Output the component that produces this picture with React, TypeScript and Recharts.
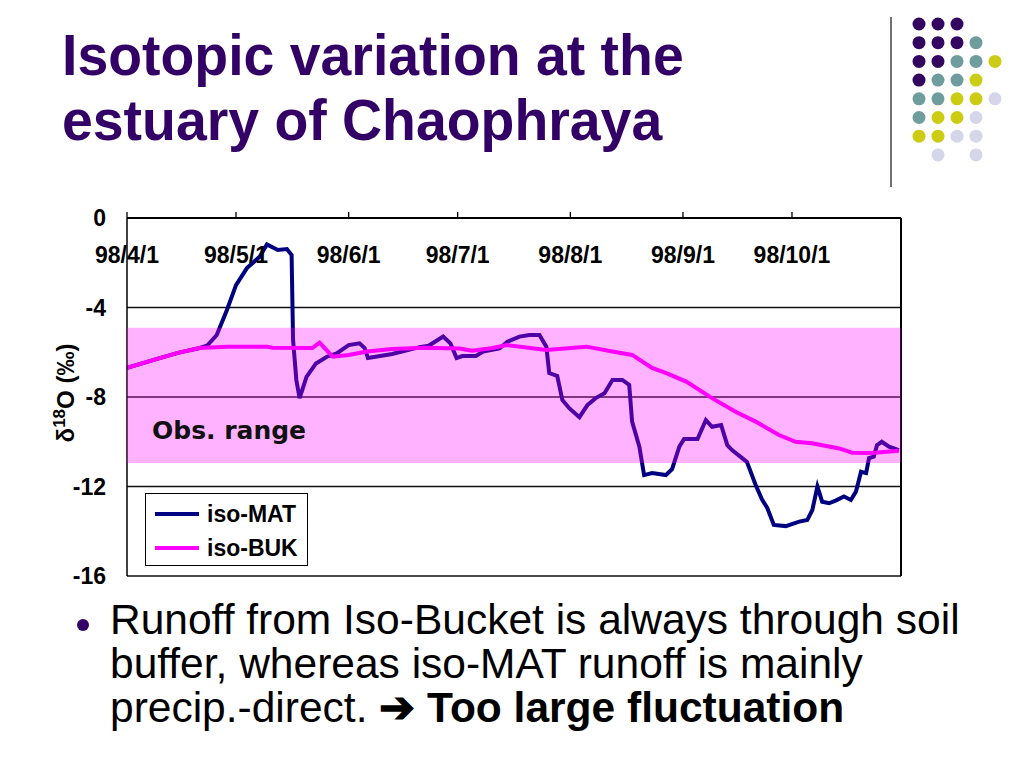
import React from "react";
import {
  LineChart,
  Line,
  XAxis,
  YAxis,
  CartesianGrid,
  ReferenceArea,
  ReferenceLine,
  Legend,
} from "recharts";

// x = days since 98/4/1
const monthTicks = [0, 30, 61, 91, 122, 153, 183];
const monthLabels = ["98/4/1", "98/5/1", "98/6/1", "98/7/1", "98/8/1", "98/9/1", "98/10/1"];
const yTicks = [0, -4, -8, -12, -16];
const obsRange = [-4.9, -10.95];
const seriesNames = ["iso-MAT", "iso-BUK"];

const isoMat: [number, number][] = [
  [0, -6.7], [9, -6.26], [14, -6.03], [20, -5.81], [22, -5.71], [24.7, -5.23],
  [27.5, -4.11], [30, -3.0], [33, -2.24], [36.5, -1.73], [38.5, -1.18], [41.5, -1.43],
  [44, -1.39], [45.3, -1.65], [45.7, -5.45], [46.6, -7.24], [47.5, -8.05], [49.4, -7.1],
  [52, -6.5], [55, -6.2], [57.7, -6.05], [61, -5.68], [64, -5.6], [65.4, -5.81],
  [66.3, -6.26], [73, -6.08], [80.5, -5.77], [83, -5.71], [87, -5.3], [89, -5.6],
  [90.7, -6.26], [92.3, -6.17], [96, -6.17], [98, -5.97], [102.5, -5.83], [104.7, -5.53],
  [108, -5.3], [110.7, -5.23], [113.5, -5.23], [115.4, -5.75], [116.2, -6.93], [118.4, -7.06],
  [119.8, -8.13], [121.7, -8.5], [124.5, -8.9], [126.7, -8.36], [129, -8.05], [131.4, -7.83],
  [133.6, -7.24], [136.3, -7.24], [138.2, -7.46], [139, -9.1], [141, -10.22], [142.3, -11.49],
  [144.5, -11.4], [148.3, -11.49], [150, -11.22], [152, -10.22], [153.3, -9.88], [157, -9.88],
  [159.3, -9.03], [161, -9.33], [163.5, -9.25], [165.2, -10.15], [166.5, -10.37], [169.3, -10.73],
  [170.6, -10.9], [173, -11.93], [174.8, -12.6], [176.2, -12.96], [178, -13.72], [181.3, -13.77],
  [185, -13.57], [187.2, -13.5], [188.6, -13.05], [190, -12.0], [191.3, -12.68], [193.2, -12.75],
  [195, -12.63], [197.3, -12.45], [199.2, -12.6], [200.6, -12.23], [202, -11.34], [203.4, -11.4],
  [204.2, -10.73], [205.5, -10.67], [206.4, -10.15], [207.7, -10.0], [209.7, -10.22], [212.4, -10.37],
];

const isoBuk: [number, number][] = [
  [0, -6.7], [9, -6.26], [14, -6.03], [20, -5.81], [27.5, -5.75], [38.5, -5.75],
  [40, -5.8], [51, -5.81], [53, -5.57], [56.6, -6.2], [61, -6.12], [66, -5.97],
  [73, -5.85], [82, -5.8], [91.5, -5.83], [95, -5.93], [100.6, -5.81], [104.5, -5.68],
  [115.4, -5.9], [126.4, -5.75], [133.6, -5.97], [139, -6.12], [144.5, -6.7], [148.4, -6.93],
  [153.9, -7.31], [161, -8.05], [167.6, -8.67], [173, -9.1], [179.4, -9.7], [184, -10.0],
  [188.5, -10.07], [196, -10.3], [199.5, -10.49], [205, -10.5], [212.4, -10.4],
];

const dotRows = ["PPP", "PPPT", "PPTTY", "PTTY", "TTYYL", "TYYL", "YYLL", " L L"];
const dotColors: Record<string, string> = {
  P: "#33065f",
  T: "#6f9c9c",
  Y: "#cccc14",
  L: "#d6d6ea",
};

const matData = isoMat.map(([d, v]) => ({ d, v }));
const bukData = isoBuk.map(([d, v]) => ({ d, v }));

const MonthTick = (props: any) => {
  const { x, y, index } = props;
  return (
    <text x={x} y={y} dy={51} textAnchor="middle" fontSize={23} fontWeight="bold" fill="#000">
      {monthLabels[index]}
    </text>
  );
};

const LegendBox = (props: any) => {
  const items = seriesNames.map((n) => (props.payload || []).find((p: any) => p.value === n)).filter(Boolean);
  return (
    <div
      style={{
        border: "1.5px solid #000",
        background: "#fff",
        width: 163,
        height: 73,
        boxSizing: "border-box",
        paddingTop: 3,
        paddingLeft: 9,
      }}
    >
      {items.map((e: any) => (
        <div key={e.value} style={{ display: "flex", alignItems: "center", height: 34 }}>
          <span style={{ display: "inline-block", width: 44, height: 4, background: e.color, marginRight: 8 }} />
          <span style={{ fontWeight: "bold", fontSize: 23, color: "#000" }}>{e.value}</span>
        </div>
      ))}
    </div>
  );
};

export default function App() {
  return (
    <div
      style={{
        position: "absolute",
        left: 0,
        top: 0,
        width: 1024,
        height: 768,
        background: "#fff",
        overflow: "hidden",
        fontFamily: '"Liberation Sans", Arial, sans-serif',
      }}
    >
      <div
        style={{
          position: "absolute",
          left: 62,
          top: 22,
          fontSize: 58,
          lineHeight: "65px",
          fontWeight: "bold",
          color: "#330066",
          whiteSpace: "nowrap",
          transform: "scaleX(0.955)",
          transformOrigin: "left top",
        }}
      >
        Isotopic variation at the
        <br />
        estuary of Chaophraya
      </div>

      <svg width={1024} height={200} style={{ position: "absolute", left: 0, top: 0 }}>
        <line x1={891} y1={17} x2={891} y2={187} stroke="#444" strokeWidth={1.5} />
        {dotRows.map((row, r) =>
          row.split("").map((c, i) =>
            c === " " ? null : (
              <circle key={`${r}-${i}`} cx={919 + i * 19} cy={24 + r * 18.7} r={6.5} fill={dotColors[c]} />
            )
          )
        )}
      </svg>

      <div style={{ position: "absolute", left: 0, top: 0 }}>
        <LineChart width={1024} height={768} margin={{ top: 210, right: 123, bottom: 192, left: 87 }}>
          <CartesianGrid vertical={false} stroke="#111" strokeWidth={1.3} />
          <XAxis
            type="number"
            dataKey="d"
            orientation="top"
            domain={[0, 213]}
            ticks={monthTicks}
            height={8}
            tickSize={6}
            tickMargin={0}
            tick={<MonthTick />}
            axisLine={{ stroke: "#000", strokeWidth: 2 }}
            tickLine={{ stroke: "#000", strokeWidth: 1.3 }}
            allowDataOverflow
          />
          <YAxis
            type="number"
            domain={[-16, 0]}
            ticks={yTicks}
            width={40}
            tickSize={0}
            tickMargin={21}
            tickLine={false}
            axisLine={{ stroke: "#000", strokeWidth: 1.5 }}
            tick={{ fontSize: 23, fontWeight: "bold", fill: "#000" }}
            allowDataOverflow
          />
          <ReferenceLine x={213} stroke="#000" strokeWidth={2} />
          <Line
            data={matData}
            dataKey="v"
            name="iso-MAT"
            type="linear"
            stroke="#000080"
            strokeWidth={4}
            dot={false}
            isAnimationActive={false}
          />
          <Line
            data={bukData}
            dataKey="v"
            name="iso-BUK"
            type="linear"
            stroke="#ff00ff"
            strokeWidth={4}
            dot={false}
            isAnimationActive={false}
          />
          <ReferenceArea
            y1={obsRange[0]}
            y2={obsRange[1]}
            fill="#ff00ff"
            fillOpacity={0.3}
            stroke="none"
            zIndex={1500}
          />
          <Legend
            layout="vertical"
            align="center"
            verticalAlign="middle"
            content={<LegendBox />}
            wrapperStyle={{ left: 145, top: 493, width: 163 }}
          />
        </LineChart>
      </div>

      <div
        style={{
          position: "absolute",
          left: 152,
          top: 418,
          fontFamily: '"DejaVu Sans", Verdana, sans-serif',
          fontWeight: "bold",
          fontSize: 25,
          lineHeight: "25px",
          color: "#111",
          whiteSpace: "nowrap",
        }}
      >
        Obs. range
      </div>

      <div
        style={{
          position: "absolute",
          left: 6,
          top: 378,
          width: 120,
          height: 30,
          lineHeight: "30px",
          textAlign: "center",
          fontWeight: "bold",
          fontSize: 24,
          color: "#000",
          transform: "rotate(-90deg)",
          transformOrigin: "center",
          whiteSpace: "nowrap",
        }}
      >
        δ<sup style={{ fontSize: 17, lineHeight: 0 }}>18</sup>O (‰)
      </div>

      <svg width={20} height={20} style={{ position: "absolute", left: 73, top: 615 }}>
        <circle cx={10} cy={10} r={6} fill="#330066" />
      </svg>
      <div
        style={{
          position: "absolute",
          left: 110,
          top: 598,
          fontSize: 42.5,
          lineHeight: "44px",
          color: "#000",
          whiteSpace: "nowrap",
        }}
      >
        Runoff from Iso-Bucket is always through soil
        <br />
        buffer, whereas iso-MAT runoff is mainly
        <br />
        precip.-direct. <b>➔ Too large fluctuation</b>
      </div>
    </div>
  );
}
